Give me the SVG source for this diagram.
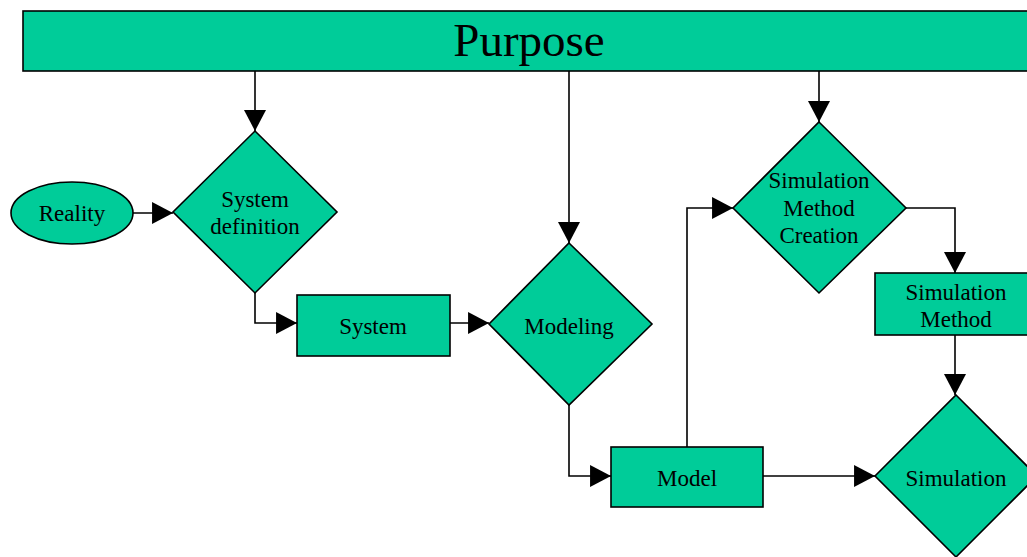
<svg xmlns="http://www.w3.org/2000/svg" width="1027" height="557" viewBox="0 0 1027 557">
<style>
.n{fill:#00CC99;stroke:#000;stroke-width:1.6}
.t{font-family:"Liberation Serif","Times New Roman",serif;font-size:23px;fill:#000;text-anchor:middle}
.c{fill:none;stroke:#000;stroke-width:1.6}
</style>
<defs>
<marker id="ah" markerUnits="userSpaceOnUse" markerWidth="22" markerHeight="22" viewBox="0 0 20 21" refX="20" refY="10.5" orient="auto">
<path d="M0,0 L20,10.5 L0,21 Z" fill="#000"/>
</marker>
</defs>
<rect width="1027" height="557" fill="#fff"/>
<g id="connectors">
<path class="c" d="M255,71 V131" marker-end="url(#ah)"/>
<path class="c" d="M569,71 V243" marker-end="url(#ah)"/>
<path class="c" d="M819,71 V122" marker-end="url(#ah)"/>
<path class="c" d="M133,213 H173" marker-end="url(#ah)"/>
<path class="c" d="M255,293 V323 H297" marker-end="url(#ah)"/>
<path class="c" d="M450,323 H489" marker-end="url(#ah)"/>
<path class="c" d="M569,405 V476 H611" marker-end="url(#ah)"/>
<path class="c" d="M763,476 H875" marker-end="url(#ah)"/>
<path class="c" d="M687,447 V208 H733" marker-end="url(#ah)"/>
<path class="c" d="M906,208 H955 V273" marker-end="url(#ah)"/>
<path class="c" d="M955,335 V395" marker-end="url(#ah)"/>
</g>
<g id="purpose">
<rect class="n" x="23" y="11" width="1010" height="60"/>
<text class="t" x="529" y="56" style="font-size:47px">Purpose</text>
</g>
<g id="reality">
<ellipse class="n" cx="72" cy="213" rx="61" ry="31"/>
<text class="t" x="72" y="221">Reality</text>
</g>
<g id="system-definition">
<path class="n" d="M255,131 L337,212 L255,293 L173,212 Z"/>
<text class="t" x="255" y="207">System</text>
<text class="t" x="255" y="234">definition</text>
</g>
<g id="system">
<rect class="n" x="297" y="295" width="153" height="61"/>
<text class="t" x="373" y="334">System</text>
</g>
<g id="modeling">
<path class="n" d="M569,243 L652,324 L569,405 L489,324 Z"/>
<text class="t" x="569" y="334">Modeling</text>
</g>
<g id="model">
<rect class="n" x="611" y="447" width="152" height="60"/>
<text class="t" x="687" y="486">Model</text>
</g>
<g id="simulation-method-creation">
<path class="n" d="M819,122 L906,208 L819,293 L733,208 Z"/>
<text class="t" x="819" y="188">Simulation</text>
<text class="t" x="819" y="216">Method</text>
<text class="t" x="819" y="243">Creation</text>
</g>
<g id="simulation-method">
<rect class="n" x="875" y="273" width="160" height="62"/>
<text class="t" x="956" y="300">Simulation</text>
<text class="t" x="956" y="327">Method</text>
</g>
<g id="simulation">
<path class="n" d="M956,395 L1037,476 L956,557 L875,476 Z"/>
<text class="t" x="956" y="486">Simulation</text>
</g>
</svg>
